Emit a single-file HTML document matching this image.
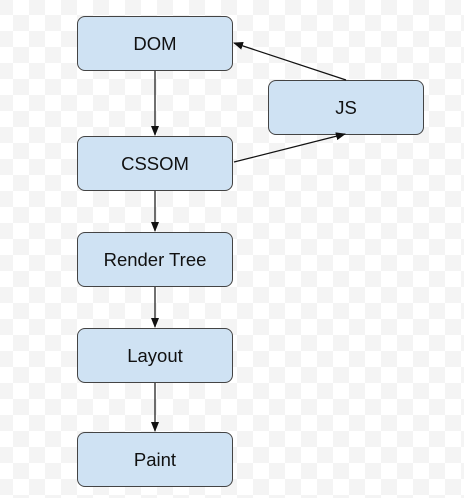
<!DOCTYPE html>
<html><head><style>
html,body{margin:0;padding:0}
body{width:464px;height:498px;overflow:hidden;position:relative;
background-color:#fff;
background-image:conic-gradient(#f4f4f4 0 25%,#fff 0 50%,#f4f4f4 0 75%,#fff 0);
background-size:32px 32px;background-position:13px -1px;}
.b{position:absolute;box-sizing:border-box;width:156px;height:55px;background:#cfe2f3;border:1.5px solid #444;border-radius:8px;
font-family:"Liberation Sans",sans-serif;font-size:18.5px;color:#111;display:flex;align-items:center;justify-content:center}
svg{position:absolute;left:0;top:0}
</style></head><body>
<div class="b" style="left:77px;top:16px">DOM</div>
<div class="b" style="left:77px;top:136px">CSSOM</div>
<div class="b" style="left:268px;top:80px">JS</div>
<div class="b" style="left:77px;top:232px">Render Tree</div>
<div class="b" style="left:77px;top:328px">Layout</div>
<div class="b" style="left:77px;top:432px">Paint</div>
<svg width="464" height="498">
<defs><marker id="a" markerWidth="10" markerHeight="8" refX="9" refY="4" orient="auto" markerUnits="userSpaceOnUse"><path d="M0,0L10,4L0,8z" fill="#111"/></marker></defs>
<g stroke="#111" stroke-width="1.2" fill="none" marker-end="url(#a)">
<line x1="155" y1="71" x2="155" y2="135"/>
<line x1="155" y1="191" x2="155" y2="231"/>
<line x1="155" y1="287" x2="155" y2="327"/>
<line x1="155" y1="383" x2="155" y2="431"/>
<line x1="346" y1="80" x2="234" y2="43"/>
<line x1="234" y1="162" x2="345" y2="134"/>
</g>
</svg>
</body></html>
